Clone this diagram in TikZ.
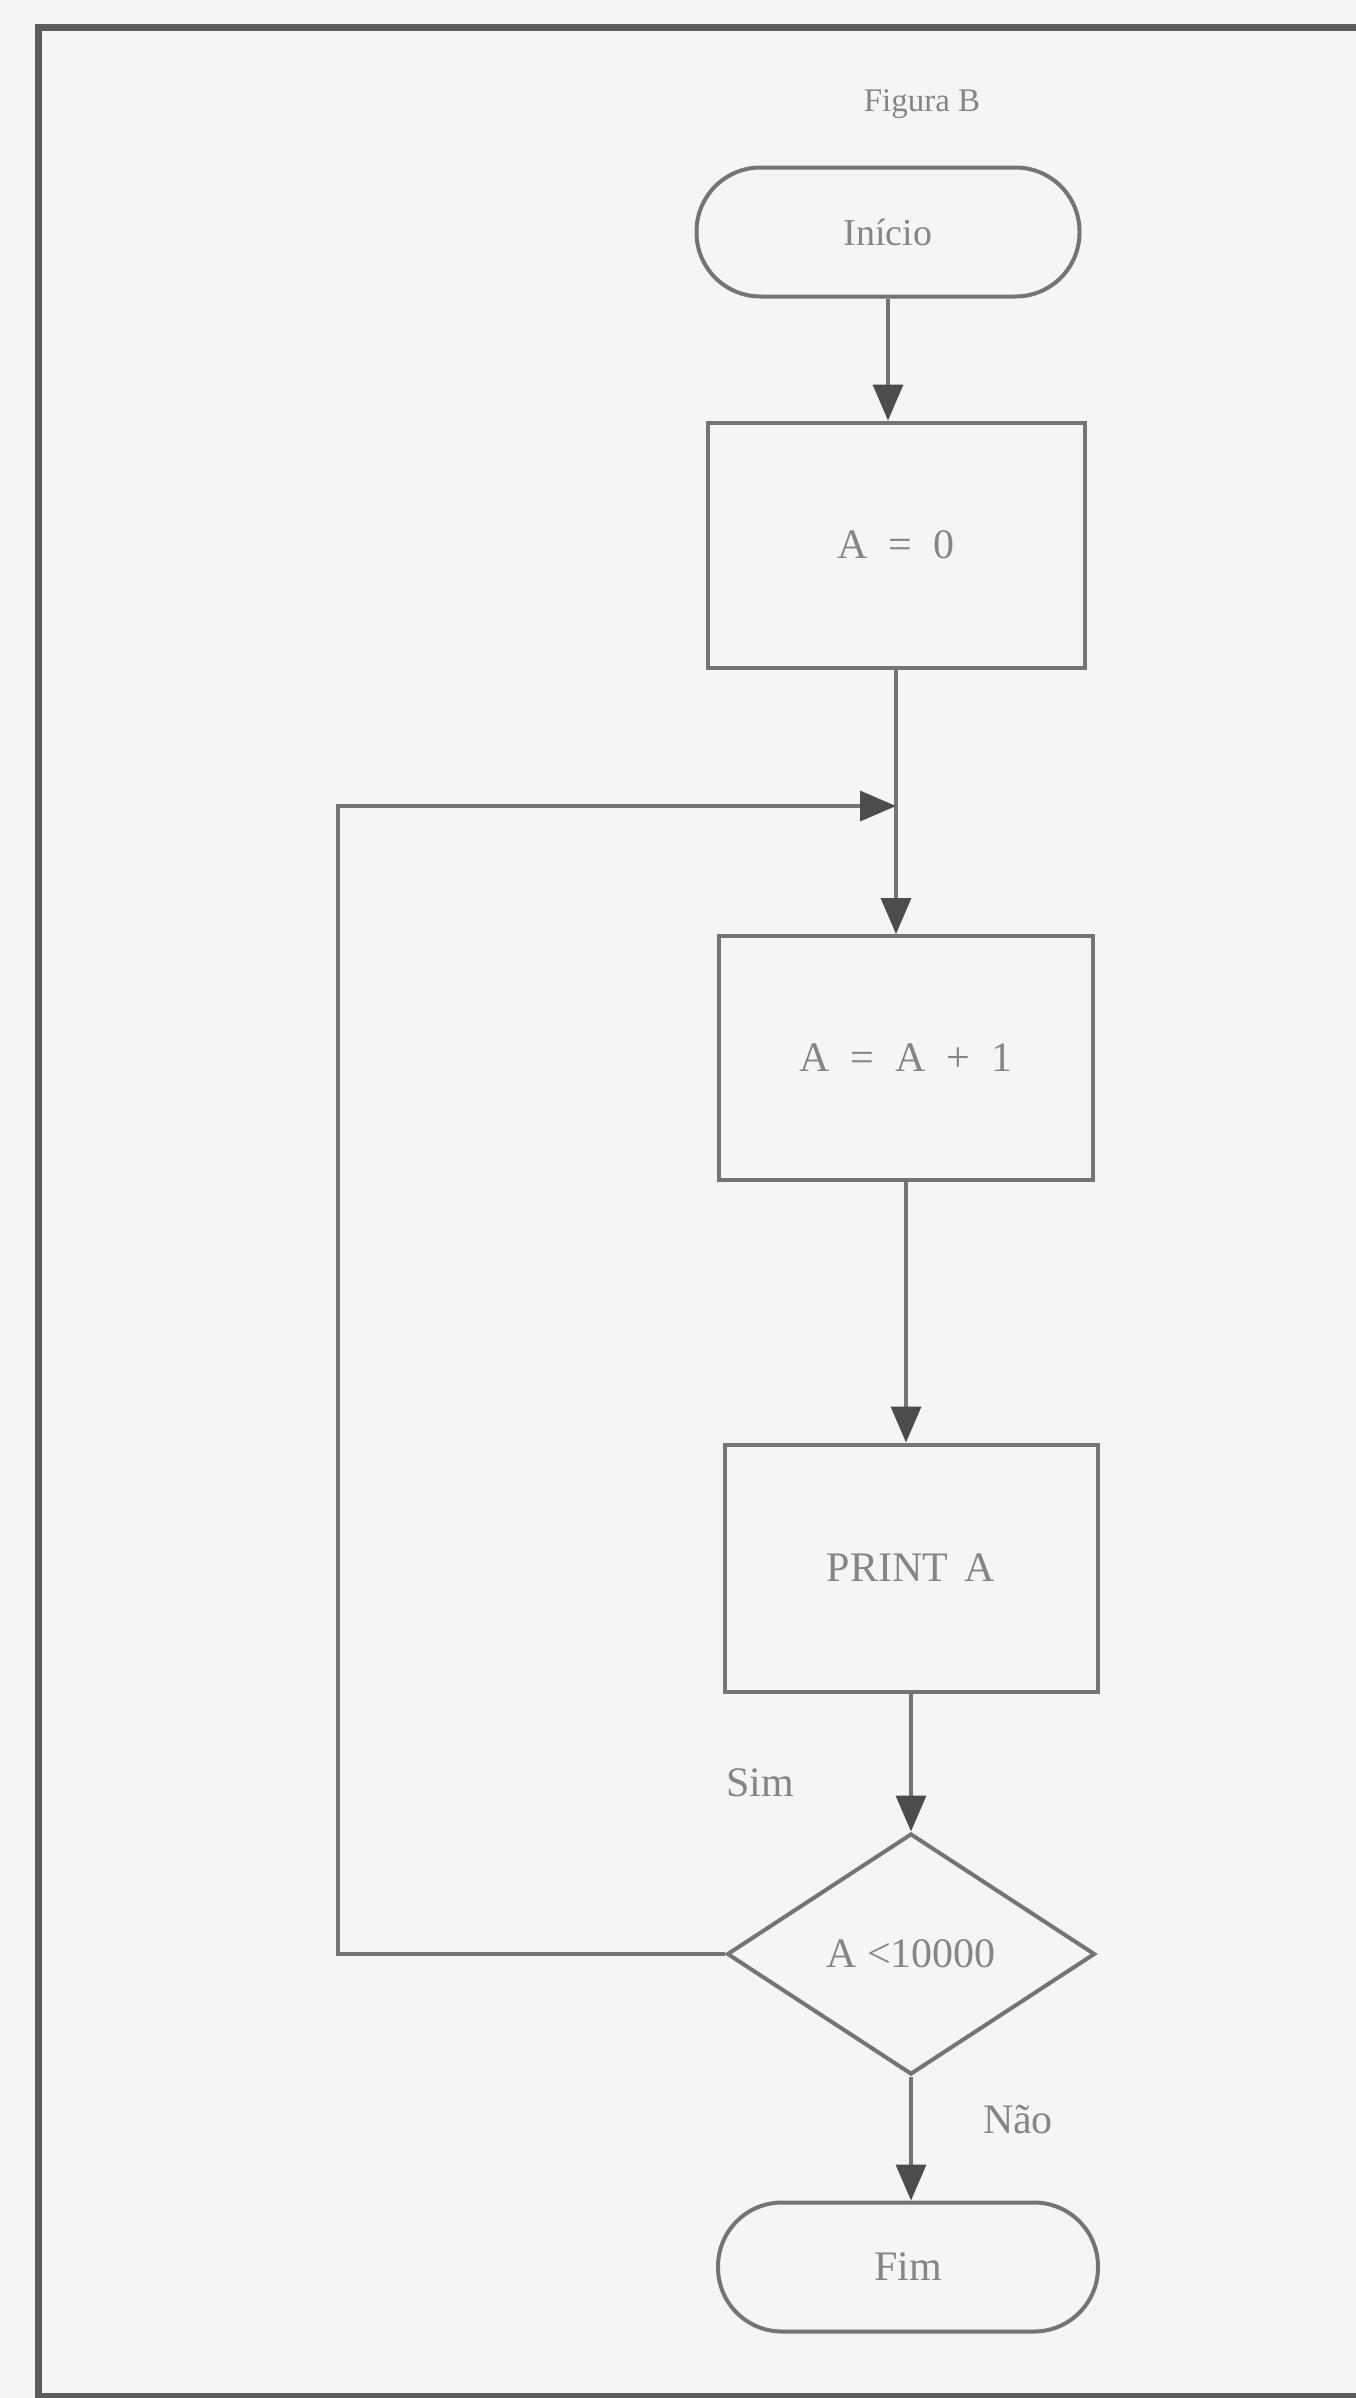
\documentclass[tikz,border=0pt]{standalone}
\usepackage{fontspec}
\setmainfont{Liberation Serif}
\usetikzlibrary{shapes.geometric,arrows.meta}
\definecolor{bg}{HTML}{F5F5F5}
\definecolor{ln}{HTML}{747474}
\definecolor{tipc}{HTML}{4C4C4C}
\definecolor{tx}{HTML}{858585}
\definecolor{fr}{HTML}{5C5C5C}
\begin{document}
\begin{tikzpicture}[x=1pt,y=-1pt,
  box/.style={draw=ln,line width=4pt,rectangle,inner sep=0pt,text=tx,font=\fontsize{42}{50}\selectfont},
  term/.style={box,rounded corners=64pt},
  dec/.style={box,diamond,aspect=1.527},
  arr/.style={draw=ln,line width=3.5pt,-{Triangle[width=30pt,length=36pt,color=tipc,fill=tipc]}},
  lbl/.style={text=tx,font=\fontsize{42}{50}\selectfont,inner sep=0pt}]
\fill[bg] (0,0) rectangle (1356,2398);
\useasboundingbox (0,0) rectangle (1356,2398);
\begin{scope}
\clip (0,0) rectangle (1356,2398);
\draw[fr,line width=7pt] (38,28) rectangle (1400,2396);
\end{scope}

\node[lbl,font=\fontsize{33}{40}\selectfont] (title) at (922,104) {Figura B};

\node[term,minimum width=383pt,minimum height=129pt,font=\fontsize{38}{46}\selectfont] (start) at (888,232) {Início};
\node[box,minimum width=377pt,minimum height=245pt] (s0) at (896,545) {A\hspace{0.5em}=\hspace{0.5em}0};
\node[box,minimum width=374pt,minimum height=244pt] (s1) at (906,1058) {A\hspace{0.5em}=\hspace{0.5em}A\hspace{0.5em}+\hspace{0.5em}1};
\node[box,minimum width=373pt,minimum height=247pt] (s2) at (911,1568) {PRINT\hspace{0.4em}A};
\node[dec,minimum width=368pt,minimum height=241pt] (d) at (911,1954) {A \textless10000};
\node[term,minimum width=380pt,minimum height=129pt] (end) at (908,2267) {Fim};

\node[lbl] (sim) at (760,1783) {Sim};
\node[lbl] (nao) at (1018,2120) {Não};

\coordinate (lt) at (338,806);
\coordinate (j) at (s0.south |- lt);

\draw[arr] (start.south) -- (start.south |- s0.north);
\draw[arr] (s0.south) -- (s0.south |- s1.north);
\draw[arr] (s1.south) -- (s1.south |- s2.north);
\draw[arr] (s2.south) -- (s2.south |- d.north);
\draw[arr] (d.south) -- (d.south |- end.north);
\draw[arr] (d.west) -- (d.west -| lt) -- (lt) -- (j);
\end{tikzpicture}
\end{document}
